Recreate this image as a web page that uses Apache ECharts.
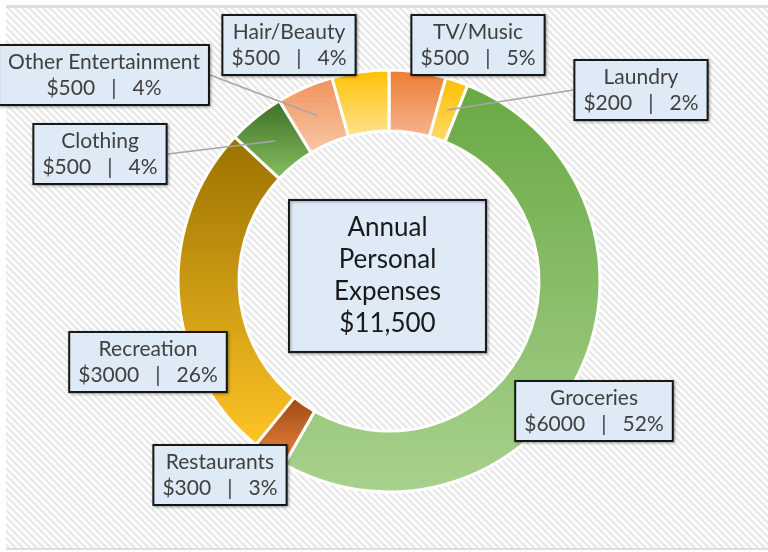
<!DOCTYPE html>
<html>
<head>
<meta charset="utf-8">
<title>Annual Personal Expenses</title>
<script src="https://cdn.jsdelivr.net/npm/echarts@6/dist/echarts.min.js"></script>
<style>
  html, body { margin: 0; padding: 0; background: #fff; }
  #main { width: 768px; height: 552px; }
</style>
</head>
<body>
<div id="main"></div>
<script>
  // data, clockwise from 12 o'clock
  var categories = ['TV/Music', 'Laundry', 'Groceries', 'Restaurants', 'Recreation', 'Clothing', 'Other Entertainment', 'Hair/Beauty'];
  var amounts = [500, 200, 6000, 300, 3000, 500, 500, 500];
  var percents = [5, 2, 52, 3, 26, 4, 4, 4];
  var totalLabel = '$11,500';

  // slice colours: top -> bottom of each slice
  var sliceColors = [
    ['#ED7B33', '#F5B68E'],
    ['#FFBE00', '#FFDA6C'],
    ['#68A943', '#A9D18E'],
    ['#9C4711', '#EF8842'],
    ['#997100', '#FFC426'],
    ['#3D6D27', '#88C160'],
    ['#F0925A', '#F8C8A7'],
    ['#FFC000', '#FFE394']
  ];
  // label box centres (px) and which labels get a leader line
  var labelPos = [[478, 45], [641, 90], [594, 411], [220, 475], [148, 362], [100, 154], [104, 75], [289, 45]];
  var withLine = [false, true, false, false, false, true, true, false];

  // striped background tile
  var tile = document.createElement('canvas');
  tile.width = 7; tile.height = 7;
  var tc = tile.getContext('2d');
  tc.fillStyle = '#ffffff';
  tc.fillRect(0, 0, 7, 7);
  tc.strokeStyle = '#e8e8e8';
  tc.lineWidth = 2.4;
  tc.beginPath();
  tc.moveTo(-2, -2); tc.lineTo(9, 9);
  tc.moveTo(-2, 5); tc.lineTo(2, 9);
  tc.moveTo(5, -2); tc.lineTo(9, 2);
  tc.stroke();

  var myChart = echarts.init(document.getElementById('main'));

  // coloured ring (no labels)
  var ringData = categories.map(function (name, i) {
    return {
      name: name,
      value: amounts[i],
      itemStyle: {
        color: new echarts.graphic.LinearGradient(0, 0, 0, 1, [
          { offset: 0, color: sliceColors[i][0] },
          { offset: 1, color: sliceColors[i][1] }
        ])
      }
    };
  });
  // same values again, invisible slices, carries the labels so leader lines sit on top of the ring
  var labelData = categories.map(function (name, i) {
    return { name: name, value: amounts[i], labelLine: { show: withLine[i] } };
  });

  var option = {
    animation: false,
    graphic: [
      {
        type: 'rect',
        shape: { x: 6, y: 8, width: 762, height: 540 },
        style: { fill: { image: tile, repeat: 'repeat' } },
        silent: true
      },
      { type: 'rect', shape: { x: 6, y: 5, width: 762, height: 3 }, style: { fill: '#dedede' }, silent: true },
      { type: 'rect', shape: { x: 6, y: 548, width: 762, height: 2 }, style: { fill: '#dedede' }, silent: true },
      {
        type: 'rect',
        shape: { x: 289, y: 200, width: 197, height: 152 },
        style: { fill: '#DEEAF6', stroke: '#1a1a1a', lineWidth: 2, shadowColor: 'rgba(0,0,0,0.35)', shadowBlur: 3, shadowOffsetX: 1, shadowOffsetY: 1 },
        silent: true
      },
      {
        type: 'text',
        x: 387.5,
        y: 276,
        style: {
          text: 'Annual\nPersonal\nExpenses\n' + totalLabel,
          align: 'center',
          verticalAlign: 'middle',
          fontFamily: 'Lato',
          fontSize: 26,
          lineHeight: 32,
          fill: '#1a1a1a'
        },
        silent: true
      }
    ],
    series: [
      {
        type: 'pie',
        z: 2,
        center: [389, 281],
        radius: [150, 211],
        startAngle: 90,
        clockwise: true,
        itemStyle: { borderColor: '#ffffff', borderWidth: 3 },
        label: { show: false },
        labelLine: { show: false },
        data: ringData
      },
      {
        type: 'pie',
        z: 5,
        silent: true,
        center: [389, 281],
        radius: [150, 211],
        startAngle: 90,
        clockwise: true,
        avoidLabelOverlap: false,
        itemStyle: { color: 'rgba(0,0,0,0)', borderWidth: 0 },
        label: {
          show: true,
          position: 'outside',
          formatter: function (p) {
            return p.name + '\n$' + p.value + '   |   ' + percents[p.dataIndex] + '%';
          },
          fontFamily: 'Lato',
          fontSize: 21,
          lineHeight: 26,
          color: '#404040',
          backgroundColor: '#DEEAF6',
          borderColor: '#1a1a1a',
          borderWidth: 2,
          padding: [4, 8, 2, 8],
          shadowColor: 'rgba(0,0,0,0.35)',
          shadowBlur: 3,
          shadowOffsetX: 1,
          shadowOffsetY: 1
        },
        labelLine: {
          lineStyle: { color: '#a6a6a6', width: 1.5 }
        },
        labelLayout: function (params) {
          var i = params.dataIndex;
          var pos = labelPos[i];
          var res = { x: pos[0], y: pos[1], align: 'center', verticalAlign: 'middle' };
          if (withLine[i]) {
            var lay = myChart.getModel().getSeriesByIndex(1).getData().getItemLayout(i);
            var mid = (lay.startAngle + lay.endAngle) / 2;
            var rm = (lay.r + lay.r0) / 2;
            var px = lay.cx + rm * Math.cos(mid);
            var py = lay.cy + rm * Math.sin(mid);
            var half = params.labelRect.width / 2;
            var ex = px > pos[0] ? pos[0] + half : pos[0] - half;
            res.labelLinePoints = [[px, py], [ex, pos[1]]];
          }
          return res;
        },
        data: labelData
      }
    ]
  };

  myChart.setOption(option);
</script>
</body>
</html>
